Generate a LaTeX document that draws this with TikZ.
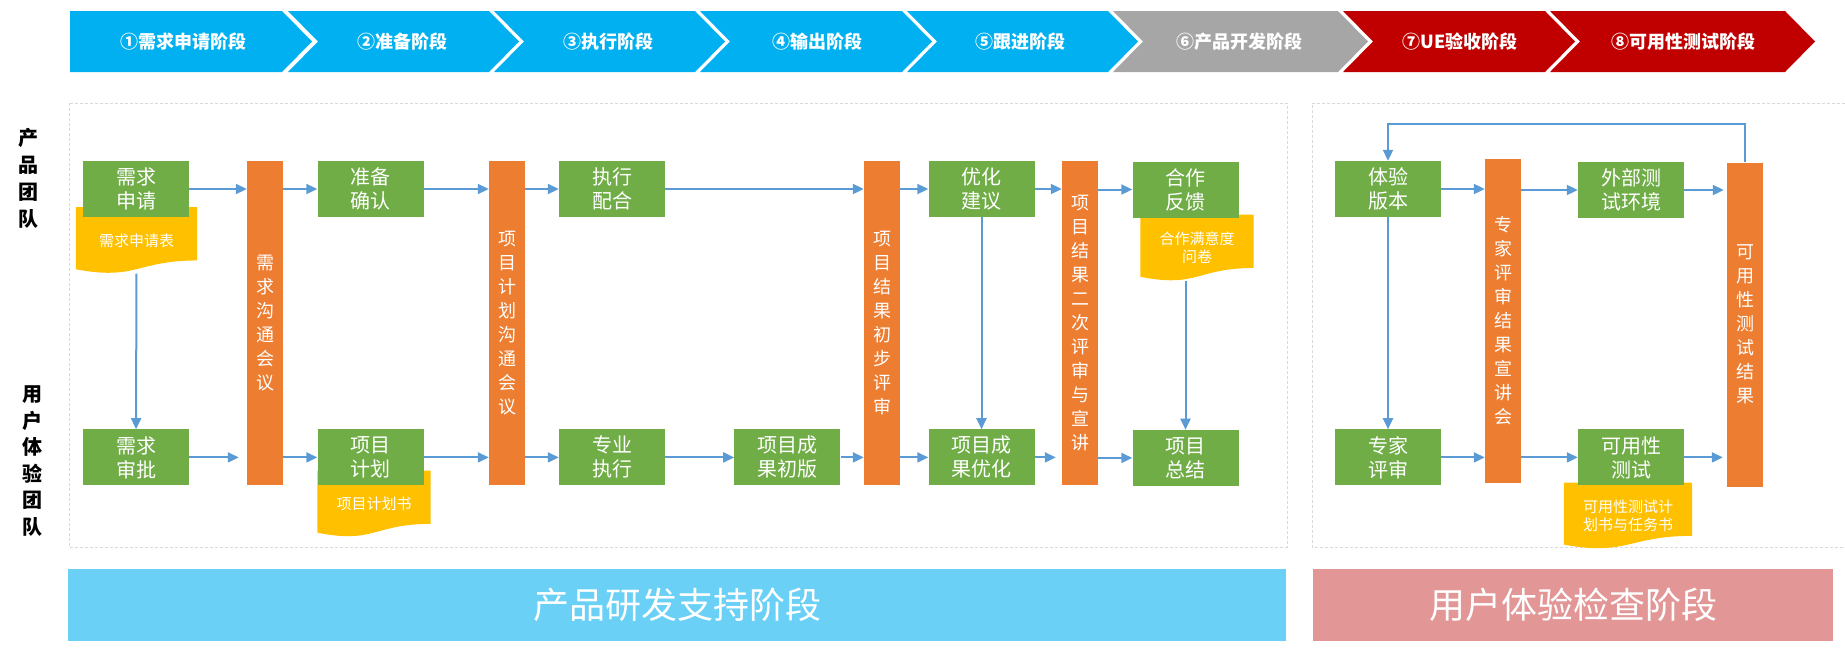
\documentclass[tikz,border=0pt]{standalone}
\usepackage{fontspec}
\setmainfont{Noto Sans CJK SC}
\usetikzlibrary{arrows.meta,positioning,backgrounds,calc}
\definecolor{taskg}{HTML}{70AD47}
\definecolor{meeto}{HTML}{ED7D31}
\definecolor{docy}{HTML}{FFC000}
\definecolor{flow}{HTML}{5B9BD5}
\definecolor{phaseb}{HTML}{00B0F0}
\definecolor{phaseg}{HTML}{A6A6A6}
\definecolor{phaser}{HTML}{C00000}
\definecolor{bandb}{HTML}{6AD0F6}
\definecolor{bandr}{HTML}{E29696}
\definecolor{frame}{HTML}{D9D9D9}

\newcommand{\fsz}[2]{\fontsize{#1}{#2}\selectfont}
% flat top, wavy bottom, filled behind the node
\newcommand{\docwave}[1]{%
  \fill[docy] (#1.north west) -- (#1.north east)
    -- ($(#1.north east)!0.802!(#1.south east)$)
    .. controls ($(#1.north)!0.802!(#1.south)$) and ($(#1.north)!1.108!(#1.south)$)
    .. ($(#1.north west)!0.934!(#1.south west)$) -- cycle;}

\begin{document}
\begin{tikzpicture}[x=1pt, y=-1pt,
      task/.style={fill=taskg, text=white, minimum width=106pt, minimum height=56pt, inner sep=0pt, align=center, font=\fsz{20}{24}},
      meet/.style={fill=meeto, text=white, minimum width=36pt, minimum height=324pt, inner sep=0pt, align=center, font=\fsz{18}{24}},
      doc/.style={text=white, minimum height=66pt, inner sep=0pt, align=center, font=\fsz{15}{18}},
      arr/.style={-{Triangle[length=11pt,width=10pt]}, line width=2pt, color=flow},
      lane/.style={align=center, font=\bfseries\fsz{20}{27}},
      phase/.style={text=white, font=\bfseries\fsz{18}{22}},
      band/.style={text=white, minimum height=72pt, inner sep=0pt, font=\fsz{36}{40}},
      panel/.style={draw=frame, densely dashed, line width=1pt}]
    \useasboundingbox (0,0) rectangle (1845,654);

    % phase chevrons
    \foreach \l/\r/\c/\t/\lab [count=\i] in {70/282/phaseb/183/①需求申请阶段, 288/489/phaseb/402/②准备阶段,
        494/695/phaseb/608/③执行阶段, 700/902/phaseb/817/④输出阶段, 907/1108/phaseb/1020/⑤跟进阶段,
        1113/1338/phaseg/1239/⑥产品开发阶段, 1343/1545/phaser/1460/⑦UE验收阶段, 1550/1785/phaser/1683/⑧可用性测试阶段}{
      \pgfmathsetmacro\n{\i==1 ? 0 : 30}
      \fill[\c] (\l,11) -- (\r,11) -- (\r+30,41.5) -- (\r,72) -- (\l,72) -- (\l+\n,41.5) -- cycle;
      \node[phase] (ph\i) at (\t,41.5) {\lab};
    }

    % lanes
    \node[lane] (prodteam) at (28,178) {产\\品\\团\\队};
    \node[lane, font=\bfseries\fsz{20}{26.5}] (uxteam) at (33,461) {用\\户\\体\\验\\团\\队};

    % product development
    \node[task] (req) at (136,189) {需求\\申请};
    \node[task, below=212pt of req] (appr) {需求\\审批};
    \node[doc, minimum width=121pt, below right=-10pt and -7pt of req.south west, anchor=north west] (reqdoc) {需求申请表};
    \node[meet] (talk) at (265,323) {需\\求\\沟\\通\\会\\议};
    \node[task] (prep) at (370.5,189) {准备\\确认};
    \node[task, below=212pt of prep] (plan) {项目\\计划};
    \node[doc, minimum width=113pt, below right=-15pt and 0pt of plan.south west, anchor=north west] (plandoc) {项目计划书};
    \node[meet] (plantalk) at (507,323) {项\\目\\计\\划\\沟\\通\\会\\议};
    \node[task] (exec) at (612,189) {执行\\配合};
    \node[task, below=212pt of exec] (prof) {专业\\执行};
    \node[task, right=69pt of prof] (draft) {项目成\\果初版};
    \node[meet] (review) at (882,323) {项\\目\\结\\果\\初\\步\\评\\审};
    \node[task] (opt) at (981.5,189) {优化\\建议};
    \node[task, below=212pt of opt] (refine) {项目成\\果优化};
    \node[meet] (final) at (1080,323) {项\\目\\结\\果\\二\\次\\评\\审\\与\\宣\\讲};
    \node[task] (fb) at (1185.5,189.5) {合作\\反馈};
    \node[task, below=212pt of fb] (summ) {项目\\总结};
    \node[doc, minimum width=113pt, below right=-3pt and 8pt of fb.south west, anchor=north west] (fbdoc) {合作满意度\\问卷};

    % user experience check
    \node[task] (ver) at (1388,189) {体验\\版本};
    \node[task, below=212pt of ver] (expert) {专家\\评审};
    \node[meet] (expo) at (1503,320.5) {专\\家\\评\\审\\结\\果\\宣\\讲\\会};
    \node[task] (env) at (1631,190) {外部测\\试环境};
    \node[task, below=211pt of env] (ut) {可用性\\测试};
    \node[doc, minimum width=128pt, below right=-3pt and -14pt of ut.south west, anchor=north west] (utdoc) {可用性测试计\\划书与任务书};
    \node[meet] (utres) at (1745,324.5) {可\\用\\性\\测\\试\\结\\果};
    \coordinate[above=38pt of utres] (loop);

    % stage bands
    \node[band, fill=bandb, minimum width=1218pt] (devband) at (677,605) {产品研发支持阶段};
    \node[band, fill=bandr, minimum width=520pt] (uxband) at (1573,605) {用户体验检查阶段};

    \begin{scope}[on background layer]
      \draw[panel] (69,103) rectangle (1287,547);
      \draw[panel] (1845,103) -- (1312,103) -- (1312,547) -- (1845,547);
      \docwave{reqdoc}
      \docwave{plandoc}
      \docwave{fbdoc}
      \docwave{utdoc}
    \end{scope}

    \draw[arr] (req) -- (req -| talk.west);
    \draw[arr, shorten >=8pt] (appr) -- (appr -| talk.west);
    \draw[arr] (reqdoc) -- (appr);
    \draw[arr] (talk.east |- prep) -- (prep);
    \draw[arr] (talk.east |- plan) -- (plan);
    \draw[arr] (prep) -- (prep -| plantalk.west);
    \draw[arr] (plan) -- (plan -| plantalk.west);
    \draw[arr] (plantalk.east |- exec) -- (exec);
    \draw[arr] (plantalk.east |- prof) -- (prof);
    \draw[arr] (exec) -- (exec -| review.west);
    \draw[arr] (prof) -- (draft);
    \draw[arr] (draft) -- (draft -| review.west);
    \draw[arr] (review.east |- opt) -- (opt);
    \draw[arr] (review.east |- refine) -- (refine);
    \draw[arr] (opt) -- (refine);
    \draw[arr] (opt) -- (opt -| final.west);
    \draw[arr, shorten >=6pt] (refine) -- (refine -| final.west);
    \draw[arr] (final.east |- fb) -- (fb);
    \draw[arr] (final.east |- summ) -- (summ);
    \draw[arr] (fbdoc.south -| summ) -- (summ);
    \draw[arr] (ver) -- (ver -| expo.west);
    \draw[arr] (expert) -- (expert -| expo.west);
    \draw[arr] (ver) -- (expert);
    \draw[arr] (expo.east |- env) -- (env);
    \draw[arr] (expo.east |- ut) -- (ut);
    \draw[arr, shorten >=3pt] (env) -- (env -| utres.west);
    \draw[arr, shorten >=4pt] (ut) -- (ut -| utres.west);
    \draw[arr] (utres) -- (loop) -| (ver);
  \end{tikzpicture}
\end{document}
